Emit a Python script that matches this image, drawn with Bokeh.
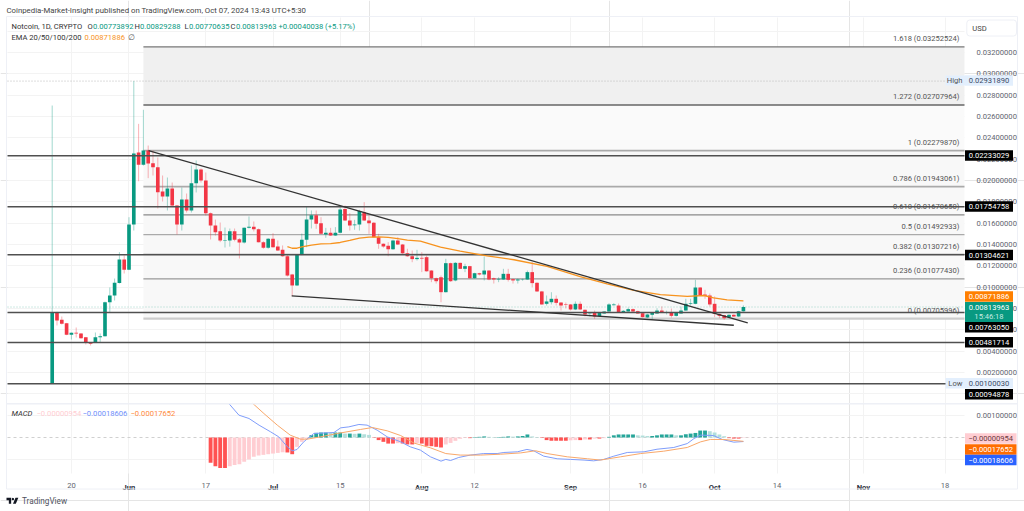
import numpy as np
from bokeh.embed import file_html
from bokeh.models import BoxAnnotation, FixedTicker, Grid, Label, LinearAxis, NumeralTickFormatter, PolyAnnotation, Range1d
from bokeh.plotting import figure
from bokeh.resources import INLINE
from bokeh.core.properties import value

# ---- data, prices in thousandths of a USD, days counted from 1 June 2024
first_day = -16
opens = [1.00,7.63,6.94,6.62,5.53,5.72,5.65,5.31,4.84,4.78,5.31,5.41,8.59,9.22,10.38,12.59,11.63,
 15.88,22.63,21.47,22.81,21.62,21.25,18.97,18.5,19.25,17.66,15.88,18.22,17.19,19.75,21.03,20.0,16.94,15.78,15.25,
 14.38,14.38,15.25,14.5,14.19,15.56,15.66,15.44,14.22,13.69,14.53,13.81,13.5,12.9,11.19,10.16,13.03,14.44,16.34,16.75,
 16.0,14.94,15.1,14.84,15.1,17.34,16.25,15.81,15.88,17.03,16.25,16.03,14.69,14.06,13.88,13.56,14.38,14.0,13.19,12.9,
 12.63,12.75,12.81,11.56,10.84,10.93,9.53,12.25,10.63,12.28,11.72,11.97,10.84,11.31,11.19,11.56,10.84,10.72,10.72,11.25,
 10.75,10.63,10.72,10.72,11.41,10.41,9.6,8.44,8.59,8.91,8.56,8.38,8.38,7.91,8.44,7.88,7.53,7.63,7.28,7.53,
 7.72,8.31,8.28,7.65,7.72,7.94,7.75,7.56,7.16,7.41,7.53,7.81,7.63,7.65,7.31,7.53,7.81,8.44,8.44,9.97,
 9.31,9.22,8.44,7.5,7.37,7.19,7.41,7.25,7.739]
highs = [27.03,7.7,7.25,6.65,5.75,6.22,5.7,5.33,4.86,5.75,5.66,8.65,9.97,10.81,13.28,12.97,16.56,
 29.32,25.31,26.63,23.28,22.81,22.16,20.47,20.28,19.81,17.7,19.34,18.78,21.41,21.88,21.13,20.75,17.0,16.34,16.06,
 15.59,15.5,15.5,14.6,15.6,16.63,16.16,15.5,14.3,14.6,15.06,14.38,13.91,13.0,11.25,13.1,15.03,17.59,17.19,17.19,
 16.56,15.56,15.56,15.63,17.5,17.66,16.94,16.31,17.25,17.97,16.72,16.1,15.0,14.1,14.22,14.45,14.69,14.05,13.6,13.44,
 13.5,13.28,12.97,11.6,10.9,11.09,12.66,12.3,12.35,12.3,12.19,12.0,11.35,11.35,12.875,11.6,10.9,10.93,11.72,11.72,
 10.8,10.8,10.8,11.56,12.34,10.45,9.65,9.22,9.53,9.22,8.6,8.56,8.42,8.66,8.66,7.9,7.6,7.81,7.65,7.75,
 8.5,8.5,8.47,7.85,8.09,8.0,7.8,7.6,7.5,7.65,8.03,8.19,7.8,8.0,7.65,8.19,8.91,8.91,10.69,10.0,
 9.75,9.41,9.13,7.55,7.4,7.45,7.45,7.78,8.293]
lows = [1.0003,6.41,6.5,5.5,5.09,5.28,5.18,4.63,4.53,4.78,4.81,5.38,7.65,8.75,10.34,11.28,11.6,
 15.31,19.93,21.4,20.22,20.47,17.38,18.03,17.19,17.6,14.94,15.31,17.0,17.0,18.88,19.81,16.72,14.47,14.84,14.22,
 13.72,13.8,14.3,12.69,14.09,15.5,15.22,14.2,13.6,13.6,13.7,13.4,12.85,11.0,9.16,10.1,13.0,13.75,15.5,15.47,
 14.95,14.63,14.8,14.8,15.05,16.2,15.31,15.38,15.31,16.2,15.0,14.65,13.6,13.7,12.9,13.5,13.95,13.1,12.85,12.34,
 12.5,11.41,11.45,10.47,10.34,8.59,9.5,10.5,10.55,11.7,11.41,10.8,10.8,11.1,10.63,10.65,10.34,10.47,10.7,10.53,
 10.34,10.34,10.6,10.7,9.97,9.55,8.35,8.28,8.38,8.28,7.81,8.0,7.81,7.85,7.85,7.25,7.25,7.03,7.2,7.5,
 7.7,8.28,7.6,7.6,7.7,7.68,7.5,7.15,7.1,6.97,7.5,7.6,7.44,7.16,7.25,7.5,7.78,8.28,8.4,9.2,
 8.91,8.19,7.19,7.1,6.94,7.1,7.2,7.2,7.706]
closes = [7.65,6.875,6.57,5.53,5.72,5.65,5.21,4.81,4.69,5.31,5.41,8.59,9.22,10.41,12.59,11.63,15.88,
 22.53,21.47,22.81,21.59,21.25,18.9,18.5,19.25,17.66,15.88,18.22,17.19,19.75,21.03,20.0,16.94,15.78,15.16,14.38,
 14.43,15.25,14.44,14.19,15.56,15.66,15.44,14.22,13.69,14.53,13.75,13.44,12.9,11.09,10.16,13.03,14.44,16.34,16.75,15.94,
 15.0,15.1,14.84,15.1,17.28,16.25,15.78,15.88,17.13,16.25,16.0,14.69,14.06,13.81,13.56,14.38,14.0,13.19,12.9,12.63,
 12.75,12.68,11.49,10.84,10.56,9.53,12.25,10.56,12.28,11.72,11.97,10.84,11.31,11.19,11.56,10.72,10.72,10.78,11.25,10.69,
 10.63,10.72,10.75,11.41,10.38,9.6,8.38,8.66,8.91,8.53,8.28,8.33,7.91,8.44,7.91,7.44,7.56,7.25,7.63,7.72,
 8.38,8.38,7.65,7.78,7.94,7.72,7.53,7.19,7.44,7.6,7.81,7.65,7.65,7.31,7.6,7.81,8.44,8.5,9.97,9.25,
 9.19,8.38,7.5,7.31,7.09,7.41,7.25,7.74,8.140]

ema_days = [33,34,35,36,38,40,42,44,46,48,50,52,54,56,58,60.7,64.9,69,74.6,80.2,87.1,94,99.6,105.2,110.7,116.3,119.8,121.8,124.6,128]
ema_vals = [13.81,13.65,13.65,13.77,13.95,14.06,14.09,14.19,14.38,14.59,14.70,14.72,14.66,14.56,14.42,14.31,13.75,13.37,12.93,12.57,11.94,11.0,10.31,9.69,9.31,9.13,9.22,9.0,8.81,8.72]

trend_days = [[4.06,128.9],[33.9,126.0]]
trend_vals = [[22.81,6.66],[9.19,6.43]]

fib_vals = [32.52524,27.07964,22.79870,19.43061,16.78650,14.92933,13.07216,10.77430,7.05996]
fib_names = ["1.618 (0.03252524)","1.272 (0.02707964)","1 (0.02279870)","0.786 (0.01943061)","0.618 (0.01678650)",
             "0.5 (0.01492933)","0.382 (0.01307216)","0.236 (0.01077430)","0 (0.00705996)"]
fib_line = ["#777777","#666666","#aaaaaa","#aaaaaa","#8a8a8a","#aaaaaa","#8a8a8a","#999999","#cccccc"]
fib_width = [1.3,1.3,1.6,1.6,1.3,1.3,1.3,1.3,2.2]
fib_fill = ["#f0f0f0","#fafafa","#f8f8f8","#f8f8f8","#f8f8f8","#f8f8f8","#f8f8f8","#f8f8f8"]
support_vals = [22.33029,17.54758,13.04621,7.63050,4.81714,0.94878]
high_val, last_close = 29.3189, 8.13963

price_ticks = [2,4,6,8,10,12,14,16,18,20,22,24,26,28,30,32]
price_grid = [0,2,4,6,8,10,12,14,16,18,20,22,24,26,28,30,32,34]
day_ticks = [-12,16,44,72,107,135,170]
day_labels = ["20","17","15","12","16","14","18"]
month_ticks = [0,30,61,92,122,153]
month_labels = ["Jun","Jul","Aug","Sep","Oct","Nov"]

hist_first = 17
hist = [-1.167,-1.32,-1.4,-1.4,-1.32,-1.27,-1.23,-1.12,-1.01,-.89,-.83,-.80,-.77,-.74,-.71,-.68,-.69,-.77,-.43,-.2,-.06,
 .11,.215,.23,.23,.215,.23,.23,.18,.18,.17,.18,.15,.12,-.015,-.12,-.2,-.28,-.28,-.26,
 -.276,-.32,-.32,-.25,-.28,-.385,-.40,-.43,-.46,-.32,-.25,-.154,-.06,-.02,-.03,.02,.03,.05,.03,.02,.02,.03,.05,.04,.05,.07,.14,.05,.02,
 -.02,-.12,-.15,-.15,-.15,-.15,-.13,-.12,-.12,-.09,-.09,-.05,-.05,-.03,
 .03,.1,.14,.14,.14,.14,.1,.09,.07,.07,.1,.14,.14,.14,.1,.1,.15,.18,.21,.32,.32,.29,.23,.14,.06,
 -.03,-.05,-.05,-.02,-.0095]
macd_days = [20.8,22.9,25,27.1,29.5,31.2,33,34,35,36.4,38.5,42.7,44.1,45.8,47.9,49.6,51.7,53.8,56.6,58.6,60.7,62.8,65,66,67,68.7,71.1,73.9,76.7,78.1,80.9,82.9,84.3,86.4,89.2,92,94.8,96.8,98.9,101,103.8,107.3,110,113.5,116.3,117.7,119.1,121.8,123.6,126,128]
macd_vals = [1.567,1.03,.876,.568,.261,.03,-.43,-.614,-.553,-.2,.184,.23,.445,.49,.6,.57,.338,.03,-.2,-.43,-.58,-.89,-1.09,-1.01,-1.06,-.92,-.81,-.74,-.74,-.69,-.66,-.55,-.61,-.86,-.98,-1.01,-1.04,-1.075,-1.01,-.86,-.69,-.66,-.54,-.46,-.28,-.05,.11,.09,-.09,-.215,-.186]
signal_days = [25.8,28.1,30.9,33.6,35.7,37.1,39.9,43.4,48.2,50.7,53.8,56.6,59.3,62.8,66,69,73.2,77.4,81.6,84.7,87.1,91.3,95.5,98.2,102.4,106.6,111.4,116.3,119.1,121.1,123.9,128]
signal_vals = [1.567,1.106,.568,.108,-.077,-.077,.03,.184,.369,.46,.307,.09,-.25,-.476,-.74,-.81,-.81,-.77,-.71,-.61,-.74,-.89,-.98,-1.04,-.89,-.74,-.63,-.46,-.2,-.09,-.09,-.177]

# ---- layout: the frame fills the page, the panes are parts of it
FONT = "Roboto"
SIZE = "7.6px"
GREEN, RED = "#089981", "#f23645"
GRID = "#f3f3f3"
BORDER = "#eef0f6"
W, H = 1024, 511
PANE_L, PANE_R = -25.31, 174.06      # pane edges in days
PANE_TOP, TIME = 0.035281, -0.007469  # pane edges in USD, on the price scale
FIB_LEFT = 3.0

def k(v):
    return np.asarray(v, dtype=float) / 1000.0

p = figure(width=W, height=H, output_backend="svg", toolbar_location=None, tools="",
           x_range=Range1d(-26.77, 186.56), y_range=Range1d(-0.01103, 0.036875),
           x_axis_location=None, y_axis_location=None,
           min_border=0, min_border_left=0, min_border_right=0, min_border_top=0, min_border_bottom=0)
p.extra_y_ranges = {"macd": Range1d(-0.00341, 0.020138)}
p.outline_line_color = None
p.background_fill_color = "#ffffff"
p.border_fill_color = "#ffffff"

def plain_axis(ax):
    ax.axis_line_color = None
    ax.major_tick_line_color = None
    ax.minor_tick_line_color = None
    ax.major_label_text_font = FONT
    ax.major_label_text_font_size = SIZE
    ax.major_label_text_color = "#62656f"
    ax.major_label_standoff = 6
    return ax

pa = plain_axis(LinearAxis(fixed_location=PANE_R, ticker=FixedTicker(ticks=[float(v) for v in k(price_ticks)]),
                           formatter=NumeralTickFormatter(format="0.00000000")))
p.add_layout(pa, "right")
ma = plain_axis(LinearAxis(fixed_location=PANE_R, y_range_name="macd", ticker=FixedTicker(ticks=[0.001]),
                           formatter=NumeralTickFormatter(format="0.00000000")))
p.add_layout(ma, "right")
xa = plain_axis(LinearAxis(fixed_location=TIME, ticker=FixedTicker(ticks=day_ticks)))
xa.major_label_overrides = dict(zip(day_ticks, day_labels))
xa.major_label_text_color = "#62656f"
xa.major_label_standoff = 3
p.add_layout(xa, "below")
xm = plain_axis(LinearAxis(fixed_location=TIME, ticker=FixedTicker(ticks=month_ticks)))
xm.major_label_overrides = dict(zip(month_ticks, month_labels))
xm.major_label_text_color = "#2a2e39"
xm.major_label_text_font_style = "bold"
xm.major_label_standoff = 3
p.add_layout(xm, "below")

p.add_layout(Grid(dimension=0, ticker=FixedTicker(ticks=day_ticks + month_ticks), grid_line_color=GRID, level="underlay",
                  cross_bounds=(TIME, PANE_TOP)))
p.add_layout(Grid(dimension=1, ticker=FixedTicker(ticks=[float(v) for v in k(price_grid)]), grid_line_color=GRID,
                  level="underlay", cross_bounds=(PANE_L, PANE_R)))
p.add_layout(Grid(dimension=1, y_range_name="macd", ticker=FixedTicker(ticks=[0.001, -0.001]), grid_line_color=GRID,
                  level="underlay", cross_bounds=(PANE_L, PANE_R)))

# Fibonacci block
p.quad(left=FIB_LEFT, right=PANE_R, top=k(fib_vals[:-1]), bottom=k(fib_vals[1:]), fill_color=fib_fill, line_color=None)
p.segment(x0=FIB_LEFT, x1=PANE_R, y0=k(fib_vals), y1=k(fib_vals), line_color=fib_line, line_width=fib_width)
p.text(x=[PANE_R] * len(fib_vals), y=k(fib_vals), text=fib_names, text_align="right", text_baseline="middle",
       x_offset=-5, y_offset=-8, text_font_size=SIZE, text_color="#555555", text_font=value(FONT))

# candles
days = np.arange(first_day, first_day + len(opens))
o, h, l, c = k(opens), k(highs), k(lows), k(closes)
cols = [GREEN if u else RED for u in (c >= o)]
p.segment(x0=PANE_L, x1=PANE_R, y0=k([high_val]), y1=k([high_val]), line_color="#bbbbbb", line_dash="1 2", line_width=1)
p.segment(x0=PANE_L, x1=PANE_R, y0=k([last_close]), y1=k([last_close]), line_color="#9fd5c8", line_dash="1 2", line_width=1)
p.segment(x0=days, x1=days, y0=l, y1=h, line_color=cols, line_alpha=0.38, line_width=1)
p.vbar(x=days, width=0.76, top=np.maximum(o, c), bottom=np.minimum(o, c), fill_color=cols, line_color=None)
p.segment(x0=PANE_L, x1=PANE_R, y0=k(support_vals), y1=k(support_vals), line_color="#505050", line_width=1.5)
p.line(ema_days, k(ema_vals), line_color="#f7931e", line_width=1.3)
for dd, vv in zip(trend_days, trend_vals):
    p.line(dd, k(vv), line_color="#333333", line_width=1.3)

# MACD
p.segment(x0=PANE_L, x1=PANE_R, y0=[0], y1=[0], y_range_name="macd", line_color="#d0d0d0", line_dash="3 3", line_width=1)
hist_days = np.arange(hist_first, hist_first + len(hist))
hv = np.asarray(hist)
hcols = []
for i, v in enumerate(hv):
    prev = hv[i - 1] if i else 0.0
    if v >= 0:
        hcols.append("#26a69a" if v >= prev else "#b2dfdb")
    else:
        hcols.append("#ff5252" if v <= prev else "#ffcdd2")
p.vbar(x=hist_days, width=0.8, top=k(np.maximum(hv, 0)), bottom=k(np.minimum(hv, 0)), fill_color=hcols,
       line_color=None, y_range_name="macd")
p.line(macd_days, k(macd_vals), line_color="#7f9dfb", line_width=1, y_range_name="macd")
p.line(signal_days, k(signal_vals), line_color="#f9a86a", line_width=1, y_range_name="macd")

# page furniture in page pixels
def page_label(x, y, text, color="#555555", size=SIZE, align="left", style="normal"):
    p.add_layout(Label(x=x, y=H - y, x_units="screen", y_units="screen", text=text, text_color=color,
                       text_font=FONT, text_font_size=size, text_font_style=style,
                       text_align=align, text_baseline="middle"))

def page_box(l, t, r, b, fill=None, line=None, radius=0):
    p.add_layout(BoxAnnotation(left=l, right=r, top=H - t, bottom=H - b,
                               left_units="screen", right_units="screen", top_units="screen", bottom_units="screen",
                               fill_color=fill, fill_alpha=1 if fill else 0, line_color=line, line_alpha=1 if line else 0,
                               line_width=1, border_radius=radius))

page_box(6, 16, 1017, 488.5, line=BORDER)
page_box(6, 403, 1017, 403.5, fill=BORDER, line=BORDER)
page_label(6, 9.5, "Coinpedia-Market-Insight published on TradingView.com, Oct 07, 2024 13:43 UTC+5:30", color="#444444", size="7.8px")
page_label(11, 26, "Notcoin, 1D, CRYPTO", color="#333333")
for x, lbl, val in [(87, "O", "0.00773892"), (134, "H", "0.00829288"), (184, "L", "0.00770635"), (230, "C", "0.00813963")]:
    page_label(x, 26, lbl, color="#333333")
    page_label(x + (5.5 if lbl != "L" else 4.5), 26, val, color=GREEN)
page_label(278, 26, "+0.00040038 (+5.17%)", color=GREEN)
page_label(11, 37, "EMA 20/50/100/200", color="#333333")
page_label(84, 37, "0.00871886", color="#f7931e")
page_label(127, 37, "\u2205", color="#555555")

page_box(966.3, 19.5, 1016, 35.5, line="#eef0f6", radius=3)
page_label(979, 27.5, "USD", color="#444444", align="center")

def badge(y, text, bg, fg, r=1012.5, h2=5.2):
    page_box(964.5, y - h2, r, y + h2, fill=bg)
    page_label((964.5 + r) / 2, y, text, color=fg, align="center")

for y, t in [(155, "0.02233029"), (206, "0.01754758"), (254.5, "0.01304621"), (326.7, "0.00763050"), (341.7, "0.00481714"), (393.7, "0.00094878")]:
    badge(y, t, "#000000", "#ffffff")
badge(80, "0.02931890", "#e3effd", "#3b4a66")
page_box(945, 75, 964.5, 85, fill="#e3effd")
page_label(962, 80, "High", align="right")
badge(382.7, "0.00100030", "#e3effd", "#3b4a66")
page_box(945, 377.5, 964.5, 388, fill="#e3effd")
page_label(962, 382.7, "Low", align="right")
badge(296, "0.00871886", "#ff8000", "#ffffff")
page_box(964.5, 301.5, 1012.5, 321.5, fill=GREEN)
page_label(988.5, 307, "0.00813963", color="#ffffff", align="center")
page_label(988.5, 316, "15:46:18", color="#c7ebe2", align="center")

page_label(11, 413, "MACD", color="#333333", style="italic")
page_label(36, 413, "\u22120.00000954", color="#ffcdd2")
page_label(82, 413, "\u22120.00018606", color="#6f8ffb")
page_label(130, 413, "\u22120.00017652", color="#ff8a3d")
badge(438, "\u22120.00000954", "#ffcdd2", "#6b3a3f", r=1016)
badge(449, "\u22120.00017652", "#ff6d00", "#ffffff", r=1016)
badge(459.5, "\u22120.00018606", "#2962ff", "#ffffff", r=1016)

# TradingView mark (drawn shape) and word
sc = 1 / 3
ox, oy = 6.0, 495.0
def poly(pts):
    p.add_layout(PolyAnnotation(xs=[ox + a * sc for a, b in pts], ys=[H - (oy + b * sc) for a, b in pts],
                                xs_units="screen", ys_units="screen", fill_color="#131722", fill_alpha=1, line_color=None))
poly([(0, 7), (14, 7), (14, 25), (7, 25), (7, 14), (0, 14)])
poly([(27, 7), (35.5, 7), (28, 25), (19.5, 25)])
poly([(16.5, 8), (19, 7), (22, 8), (23, 11), (21.5, 13.5), (19, 14.5), (16.5, 13.5), (15.5, 11)])
page_label(21.5, 500, "TradingView", color="#50535e", size="8.2px")

open("out.html", "w").write(file_html(p, INLINE))
